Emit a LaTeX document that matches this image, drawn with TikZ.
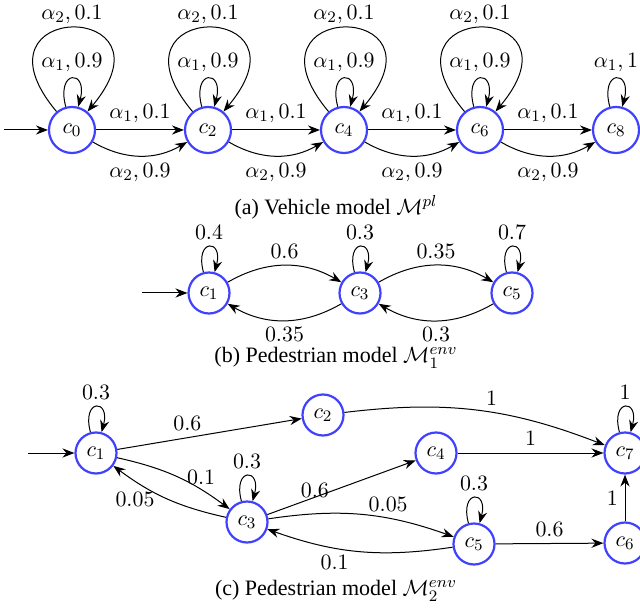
\documentclass[tikz,border=0pt]{standalone}
\usepackage{fontspec}
\setmainfont{Liberation Serif}
\usetikzlibrary{arrows.meta}
\definecolor{stblue}{RGB}{64,64,255}
\begin{document}
\begin{tikzpicture}[x=0.5pt,y=0.5pt,
  font=\fontsize{11}{13}\selectfont,
  stA/.style={circle,draw=stblue,line width=1.1pt,minimum size=23pt,inner sep=0pt},
  stB/.style={circle,draw=stblue,line width=1.1pt,minimum size=20.5pt,inner sep=0pt},
  tr/.style={-{Stealth[length=6pt,width=4.6pt,inset=2pt]},line width=0.5pt},
  every loop/.style={tr,looseness=8,min distance=14pt},
  captext/.style={font=\fontsize{11}{13}\selectfont}]
\useasboundingbox (0,0) rectangle (640,-608);
% ---------- (a)
\node[stA] (a0) at (72,-130) {$c_0$};
\node[stA] (a2) at (208,-130) {$c_2$};
\node[stA] (a4) at (344,-130) {$c_4$};
\node[stA] (a6) at (480,-130) {$c_6$};
\node[stA] (a8) at (616,-130) {$c_8$};
\coordinate (ai) at (4,-130);
\draw[tr] (ai) -- (a0);
\foreach \p/\q in {a0/a2,a2/a4,a4/a6,a6/a8}{
  \draw[tr] (\p) -- node[above] {$\alpha_1,0.1$} (\q);
  \draw[tr] (\p) to[bend right=30] node[below] {$\alpha_2,0.9$} (\q);
}
\foreach \p in {a0,a2,a4,a6}{
  \draw[tr] (\p) to[loop above] node[above] {$\alpha_1,0.9$} (\p);
  \draw[tr] (\p.130) .. controls +(130:146) and +(50:146) .. node[above,yshift=-1.5pt] {$\alpha_2,0.1$} (\p.50);
}
\draw[tr] (a8) to[loop above] node[above] {$\alpha_1,1$} (a8);
\node[captext] (capa) at (336,-207) {(a) Vehicle model $\mathcal{M}^{pl}$};
% ---------- (b)
\node[stB] (b1) at (209,-293) {$c_1$};
\node[stB] (b3) at (360,-293) {$c_3$};
\node[stB] (b5) at (512,-293) {$c_5$};
\coordinate (bi) at (142,-293);
\draw[tr] (bi) -- (b1);
\draw[tr] (b1) to[loop above] node[above] {$0.4$} (b1);
\draw[tr] (b3) to[loop above] node[above] {$0.3$} (b3);
\draw[tr] (b5) to[loop above] node[above] {$0.7$} (b5);
\draw[tr] (b1) to[bend left=30] node[above] {$0.6$} (b3);
\draw[tr] (b3) to[bend left=30] node[below] {$0.35$} (b1);
\draw[tr] (b3) to[bend left=30] node[above] {$0.35$} (b5);
\draw[tr] (b5) to[bend left=30] node[below] {$0.3$} (b3);
\node[captext] (capb) at (336,-358) {(b) Pedestrian model $\mathcal{M}_1^{env}$};
% ---------- (c)
\node[stB] (c1) at (96,-453) {$c_1$};
\node[stB] (c2) at (323,-415) {$c_2$};
\node[stB] (c3) at (247,-522) {$c_3$};
\node[stB] (c4) at (436,-453) {$c_4$};
\node[stB] (c5) at (474,-544) {$c_5$};
\node[stB] (c6) at (625,-543) {$c_6$};
\node[stB] (c7) at (625,-453) {$c_7$};
\coordinate (ci) at (28,-453);
\draw[tr] (ci) -- (c1);
\draw[tr] (c1) to[loop above] node[above] {$0.3$} (c1);
\draw[tr] (c3) to[loop above] node[above] {$0.3$} (c3);
\draw[tr] (c5) to[loop above] node[above] {$0.3$} (c5);
\draw[tr] (c7) to[loop above] node[above] {$1$} (c7);
\draw[tr] (c1) -- node[pos=0.38,above] {$0.6$} (c2);
\draw[tr] (c1) to[bend left=12] node[pos=0.7,above,xshift=2pt,yshift=-2pt] {$0.1$} (c3);
\draw[tr] (c3) to[bend left=12] node[pos=0.66,below,xshift=-7.5pt,yshift=2.5pt] {$0.05$} (c1);
\draw[tr] (c3) -- node[pos=0.3,above,yshift=-3pt,xshift=1.5pt] {$0.6$} (c4);
\draw[tr] (c3) to[bend left=14] node[pos=0.65,above] {$0.05$} (c5);
\draw[tr] (c5) to[bend left=14] node[pos=0.64,below] {$0.1$} (c3);
\draw[tr] (c2) to[bend left=14] node[pos=0.56,above] {$1$} (c7);
\draw[tr] (c4) -- node[above] {$1$} (c7);
\draw[tr] (c5) -- node[above] {$0.6$} (c6);
\draw[tr] (c6) -- node[left] {$1$} (c7);
\node[captext] (capc) at (336,-591) {(c) Pedestrian model $\mathcal{M}_2^{env}$};
\end{tikzpicture}
\end{document}
